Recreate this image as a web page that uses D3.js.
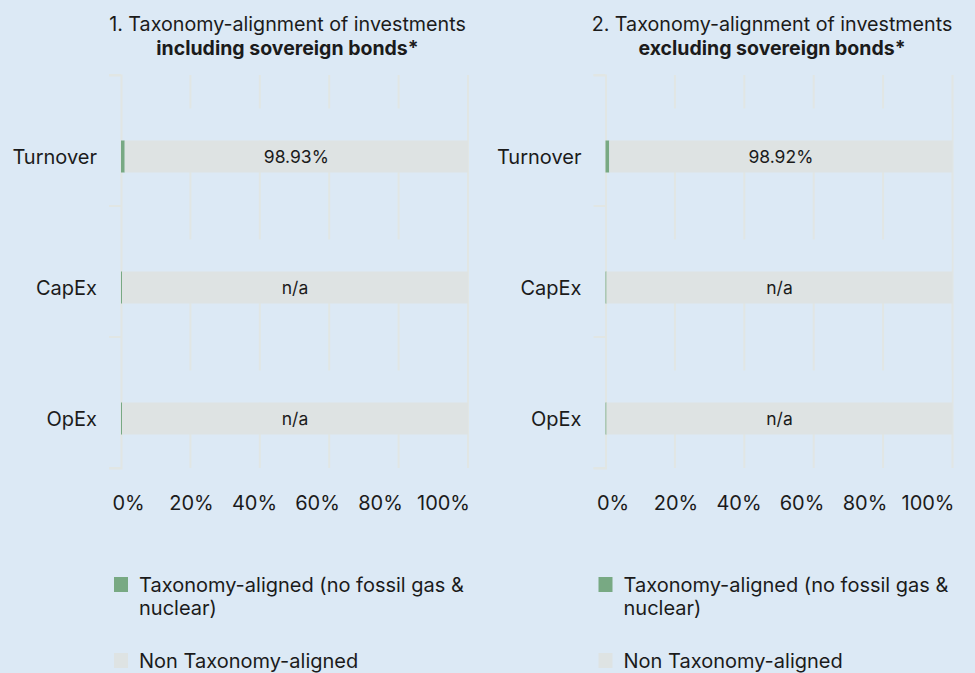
<!DOCTYPE html>
<html>
<head>
<meta charset="utf-8">
<script src="https://cdn.jsdelivr.net/npm/d3@7"></script>
<style>
  html, body { margin: 0; padding: 0; background: #dce9f5; }
  svg { display: block; font-family: Inter, "Noto Sans", sans-serif; }
</style>
</head>
<body>
<svg id="chart" width="975" height="673"></svg>
<script>
// Categories and values (percent of investments)
const categories = ["Turnover", "CapEx", "OpEx"];
const panelTitles = [
  ["1. Taxonomy-alignment of investments", "including sovereign bonds*"],
  ["2. Taxonomy-alignment of investments", "excluding sovereign bonds*"]
];
const alignedIncl = [1.07, 0.3, 0.3];
const nonAlignedIncl = [98.93, 99.7, 99.7];
const labelsIncl = ["98.93%", "n/a", "n/a"];
const alignedExcl = [1.08, 0.3, 0.3];
const nonAlignedExcl = [98.92, 99.7, 99.7];
const labelsExcl = ["98.92%", "n/a", "n/a"];
const xTicks = [0, 20, 40, 60, 80, 100];
const legendLabels = [["Taxonomy-aligned (no fossil gas &", "nuclear)"], ["Non Taxonomy-aligned"]];

const colors = {
  bg: "#dce9f5",
  aligned: "#78a983",
  nonAligned: "#dee3e3",
  grid: "#e1e6e4",
  text: "#1b1b1b"
};

const panels = [
  { title: panelTitles[0], aligned: alignedIncl, nonAligned: nonAlignedIncl, labels: labelsIncl },
  { title: panelTitles[1], aligned: alignedExcl, nonAligned: nonAlignedExcl, labels: labelsExcl }
];

const svg = d3.select("#chart");
const panelOffset = 484.5;
const plotLeft = 121, plotWidth = 347;
const plotTop = 75, plotBottom = 468;
const barH = 32;

panels.forEach((p, i) => {
  const g = svg.append("g").attr("transform", `translate(${i * panelOffset},0)`);

  const x = d3.scaleLinear().domain([0, 100]).range([plotLeft, plotLeft + plotWidth]);
  // tick labels sit on their own, slightly inset row
  const xLabel = d3.scaleLinear().domain([0, 100]).range([plotLeft + 7, plotLeft + plotWidth - 25]);
  const y = d3.scaleBand().domain(categories).range([plotTop, plotBottom]);
  const mid = c => y(c) + y.bandwidth() / 2;

  // Title
  const cx = plotLeft + plotWidth / 2 - 7;
  g.append("text").attr("x", cx).attr("y", 31).attr("text-anchor", "middle")
    .attr("font-size", 19.7).attr("fill", colors.text).text(p.title[0]);
  g.append("text").attr("x", cx).attr("y", 55).attr("text-anchor", "middle")
    .attr("font-size", 19.5).attr("font-weight", 700).attr("fill", colors.text).text(p.title[1]);

  // Vertical gridlines
  g.append("g").selectAll("line").data(xTicks.filter(t => t > 0)).join("line")
    .attr("x1", d => x(d)).attr("x2", d => x(d))
    .attr("y1", plotTop).attr("y2", plotBottom)
    .attr("stroke", colors.grid).attr("stroke-width", 2);

  // Empty slot above each bar hides the inner gridlines
  g.append("g").selectAll("rect").data(categories).join("rect")
    .attr("x", x(0) + 1).attr("width", x(100) - x(0) - 2)
    .attr("y", d => mid(d) - barH).attr("height", barH)
    .attr("fill", colors.bg);

  // Y axis with ticks at band boundaries
  const yAxis = d3.axisLeft(y).tickSize(12).tickFormat("").tickValues([]);
  const ya = g.append("g").attr("transform", `translate(${x(0)},0)`).call(yAxis);
  ya.select(".domain").attr("stroke", colors.grid).attr("stroke-width", 2);
  const bounds = categories.map(c => y(c)).concat([plotBottom]);
  ya.selectAll(".bound").data(bounds).join("line").attr("class", "bound")
    .attr("x1", -12).attr("x2", 0).attr("y1", d => d).attr("y2", d => d)
    .attr("stroke", colors.grid).attr("stroke-width", 2);

  // Category labels
  g.append("g").selectAll("text").data(categories).join("text")
    .attr("x", x(0) - 24).attr("y", d => mid(d) + barH / 2)
    .attr("dy", "0.35em").attr("text-anchor", "end")
    .attr("font-size", 20).attr("fill", colors.text).text(d => d);

  // Stacked bars
  const rows = categories.map((c, k) => ({ c, a: p.aligned[k], n: p.nonAligned[k], label: p.labels[k] }));
  const bars = g.append("g");
  bars.selectAll(".aligned").data(rows).join("rect").attr("class", "aligned")
    .attr("x", x(0)).attr("width", d => x(d.a) - x(0))
    .attr("y", d => mid(d.c)).attr("height", barH).attr("fill", colors.aligned);
  bars.selectAll(".non").data(rows).join("rect").attr("class", "non")
    .attr("x", d => x(d.a)).attr("width", d => x(d.a + d.n) - x(d.a))
    .attr("y", d => mid(d.c)).attr("height", barH).attr("fill", colors.nonAligned);
  bars.selectAll(".lbl").data(rows).join("text").attr("class", "lbl")
    .attr("x", d => (x(d.a) + x(d.a + d.n)) / 2).attr("y", d => mid(d.c) + barH / 2)
    .attr("dy", "0.35em").attr("text-anchor", "middle")
    .attr("font-size", 17.5).attr("fill", colors.text).text(d => d.label);

  // X tick labels
  const xAxis = d3.axisBottom(xLabel).tickValues(xTicks).tickSize(0).tickPadding(0).tickFormat(d => d + "%");
  const xa = g.append("g").attr("transform", `translate(0,${plotBottom + 42})`).call(xAxis);
  xa.select(".domain").remove();
  xa.selectAll("text").attr("font-size", 20).attr("fill", colors.text)
    .attr("font-family", "Inter, 'Noto Sans', sans-serif").attr("dy", 0);

  // Legend
  const leg = g.append("g").attr("transform", `translate(${plotLeft - 7},0)`);
  const legColors = [colors.aligned, colors.nonAligned];
  const legY = [577, 653];
  legendLabels.forEach((lines, k) => {
    leg.append("rect").attr("x", 0).attr("y", legY[k]).attr("width", 14).attr("height", 15)
      .attr("fill", legColors[k]);
    const t = leg.append("text").attr("x", 25).attr("y", legY[k] + 15)
      .attr("font-size", 20).attr("fill", colors.text);
    lines.forEach((ln, j) => t.append("tspan").attr("x", 25).attr("dy", j === 0 ? 0 : 23).text(ln));
  });
});
</script>
</body>
</html>
